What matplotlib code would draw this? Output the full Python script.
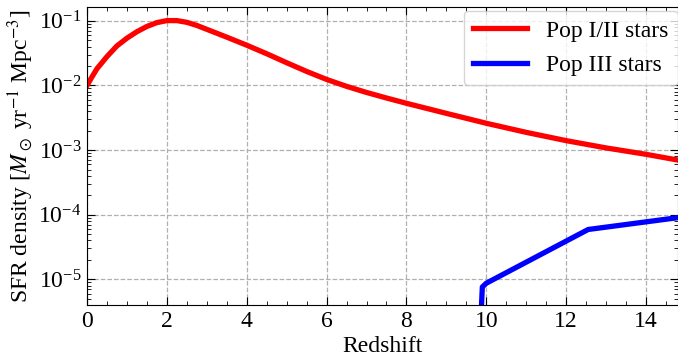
import numpy as np
import matplotlib
matplotlib.use('Agg')
import matplotlib.pyplot as plt

plt.rcParams['font.family'] = 'Liberation Serif'
plt.rcParams['mathtext.fontset'] = 'stix'

# Pop I/II star formation rate density
z_pop12 = [0, 0.1, 0.25, 0.5, 0.75, 1, 1.25, 1.5, 1.75, 2, 2.25, 2.5, 2.75, 3, 3.5, 4, 4.5, 5, 5.5, 6, 6.5,
           7, 7.5, 8, 9, 10, 11, 12, 13, 14, 14.8]
sfr_pop12 = [0.0100, 0.0128, 0.0182, 0.028, 0.041, 0.054, 0.068, 0.082, 0.094, 0.101, 0.101, 0.095, 0.085,
             0.074, 0.056, 0.042, 0.031, 0.0225, 0.0165, 0.0124, 0.0097, 0.0078, 0.0064, 0.0053, 0.0037,
             0.0026, 0.00188, 0.00140, 0.00108, 0.00086, 0.00070]

# Pop III star formation rate density
z_pop3 = [9.87, 9.9, 10.0, 12.55, 14.8]
sfr_pop3 = [3e-6, 7.6e-6, 8.7e-6, 5.9e-5, 9.0e-5]

fig = plt.figure(figsize=(6.78, 3.6), dpi=100)
ax = fig.add_axes([87/678, 55/360, 591/678, 298/360])

ax.plot(z_pop12, sfr_pop12, color='red', lw=3.8, label='Pop I/II stars')
ax.plot(z_pop3, sfr_pop3, color='blue', lw=3.8, label='Pop III stars')

ax.set_yscale('log')
ax.set_xlim(0, 14.8)
ax.set_ylim(4e-6, 0.164)
ax.set_xticks([0, 2, 4, 6, 8, 10, 12, 14])
ax.set_xticks(np.arange(0, 15, 0.5), minor=True)
ax.tick_params(which='both', direction='in', top=True, right=True, labelsize=17)
ax.tick_params(which='major', length=6, pad=4)
ax.tick_params(which='minor', length=3)
ax.grid(True, which='major', ls='--', color='#b0b0b0', lw=0.9)

ax.set_xlabel('Redshift', fontsize=17, labelpad=3)
ax.set_ylabel(r'SFR density [$M_\odot$ yr$^{-1}$ Mpc$^{-3}$]', fontsize=17, labelpad=2)

ax.legend(loc='upper right', bbox_to_anchor=(1.006, 1.0), fontsize=17, handlelength=2.3,
          borderaxespad=0.15, labelspacing=0.55, handletextpad=0.8)

fig.savefig('out.png', dpi=100)
